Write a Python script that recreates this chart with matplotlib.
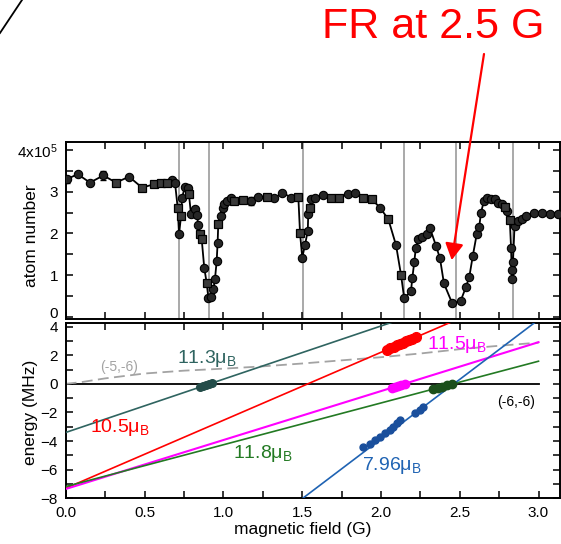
import numpy as np
import matplotlib
matplotlib.use("Agg")
import matplotlib.pyplot as plt
from matplotlib.lines import Line2D
from matplotlib.ticker import MultipleLocator

plt.rcParams['font.family'] = ['Liberation Sans', 'DejaVu Sans']
plt.rcParams['mathtext.fontset'] = 'custom'
plt.rcParams['mathtext.rm'] = 'Liberation Sans'
plt.rcParams['mathtext.it'] = 'Liberation Sans:italic'
plt.rcParams['mathtext.bf'] = 'Liberation Sans:bold'

# ---- atom-loss spectrum (atom number in units of 1e5) ----
field = [0.006, 0.076, 0.154, 0.239, 0.319, 0.402, 0.484, 0.562, 0.605, 0.641,
         0.673, 0.694, 0.711, 0.719, 0.732, 0.738, 0.757, 0.774, 0.782, 0.795,
         0.820, 0.833, 0.841, 0.852, 0.863, 0.879, 0.895, 0.905, 0.922, 0.937,
         0.947, 0.958, 0.964, 0.968, 0.983, 0.996, 1.006, 1.022, 1.049, 1.070,
         1.123, 1.176, 1.222, 1.275, 1.324, 1.374, 1.430, 1.476, 1.487, 1.501,
         1.518, 1.536, 1.539, 1.550, 1.556, 1.582, 1.635, 1.683, 1.734, 1.789,
         1.836, 1.888, 1.942, 1.994, 2.047, 2.096, 2.128, 2.148, 2.191, 2.199,
         2.212, 2.221, 2.237, 2.259, 2.291, 2.312, 2.350, 2.375, 2.400, 2.453,
         2.506, 2.540, 2.561, 2.583, 2.608, 2.624, 2.635, 2.654, 2.671, 2.697,
         2.724, 2.745, 2.767, 2.787, 2.802, 2.818, 2.826, 2.830, 2.834, 2.838,
         2.848, 2.872, 2.893, 2.921, 2.972, 3.020, 3.073, 3.126]
atoms = [3.30, 3.42, 3.22, 3.39, 3.22, 3.36, 3.10, 3.18, 3.20, 3.22,
         3.28, 3.20, 2.60, 1.98, 2.42, 2.86, 3.12, 3.10, 2.94, 2.46,
         2.58, 2.44, 2.20, 1.98, 1.86, 1.18, 0.80, 0.46, 0.48, 0.66,
         0.90, 1.34, 1.78, 2.22, 2.42, 2.62, 2.70, 2.78, 2.86, 2.78,
         2.80, 2.78, 2.88, 2.88, 2.84, 2.98, 2.86, 2.88, 2.00, 1.42,
         1.72, 2.06, 2.46, 2.60, 2.82, 2.86, 2.92, 2.86, 2.86, 2.94,
         2.96, 2.84, 2.82, 2.62, 2.34, 1.72, 1.00, 0.44, 0.62, 0.92,
         1.32, 1.64, 1.86, 1.92, 1.98, 2.12, 1.70, 1.40, 0.80, 0.32,
         0.38, 0.72, 0.96, 1.46, 1.98, 2.16, 2.50, 2.78, 2.84, 2.82,
         2.82, 2.72, 2.70, 2.64, 2.54, 2.32, 1.64, 1.12, 0.90, 1.32,
         2.18, 2.30, 2.34, 2.42, 2.50, 2.50, 2.46, 2.46]
atoms_err = {0.006: 0.08, 0.239: 0.10, 0.562: 0.06, 1.176: 0.10,
             1.275: 0.07, 1.430: 0.07, 2.671: 0.05}
square_fields = [0.319, 0.484, 0.562, 0.605, 0.641, 0.711, 0.732, 0.782, 0.852,
                 0.863, 0.895, 0.968, 1.070, 1.123, 1.275, 1.476, 1.487, 1.550,
                 1.683, 1.734, 1.888, 1.942, 2.047, 2.128, 2.787, 2.818]

resonances = [0.721, 0.911, 1.508, 2.149, 2.475, 2.836]
atom_ticks = [0, 1, 2, 3, 4]
atom_ticklabels = ['0', '1', '2', '3', '4x10$^{5}$']

# ---- bound-state energies relative to the (-6,-6) threshold ----
thr_B = [0.0, 3.0]
thr_E = [0.0, 0.0]
curve_B = [0.0, 0.1, 0.25, 0.5, 0.75, 1.0, 1.25, 1.5, 1.75, 2.0, 2.25, 2.5, 2.75, 3.0]
curve_E = [0.0, 0.12, 0.38, 0.72, 0.92, 1.06, 1.22, 1.42, 1.64, 1.86, 2.12, 2.42, 2.66, 2.88]
teal_B, teal_E = [0.0, 3.0], [-3.40, 7.76]
red_B, red_E = [0.0, 3.0], [-7.30, 6.95]
mag_B, mag_E = [0.0, 3.0], [-7.35, 2.91]
green_B, green_E = [0.0, 3.0], [-7.18, 1.58]
blue_B, blue_E = [1.504, 3.0], [-8.0, 4.48]

teal_pts_B = [0.85, 0.87, 0.89, 0.91, 0.93]
teal_pts_E = [-0.24, -0.17, -0.09, -0.02, 0.06]
red_pts_B = [2.04, 2.06, 2.08, 2.10, 2.12, 2.14, 2.16, 2.18, 2.20, 2.22]
red_pts_E = [2.39, 2.49, 2.58, 2.68, 2.77, 2.87, 2.96, 3.06, 3.15, 3.25]
mag_pts_B = [2.07, 2.09, 2.11, 2.13, 2.15]
mag_pts_E = [-0.27, -0.20, -0.13, -0.07, 0.00]
green_pts_B = [2.33, 2.36, 2.39, 2.42, 2.45]
green_pts_E = [-0.38, -0.29, -0.20, -0.11, -0.03]
blue_pts_B = [1.888, 1.931, 1.963, 1.994, 2.026, 2.058, 2.079, 2.100, 2.121,
              2.216, 2.248, 2.270]
blue_pts_E = [-4.39, -4.20, -3.92, -3.69, -3.45, -3.22, -2.99, -2.75, -2.52,
              -2.01, -1.82, -1.63]

C_TEAL = '#2f6460'
C_RED = '#ff0000'
C_MAG = '#ff00ff'
C_GREEN = '#237a23'
C_BLUE = '#1f63b3'
C_GRAY = '#a3a3a3'

W, H = 561, 544
fig = plt.figure(figsize=(W / 100, H / 100), dpi=100)

left = 65.7 / W
right = 560.0 / W
axw = 560.0 - 65.7
ax1 = fig.add_axes([left, 1 - 318.5 / H, right - left, (318.5 - 141.7) / H])
ax2 = fig.add_axes([left, 1 - 498.3 / H, right - left, (498.3 - 323.3) / H])

xmax = axw / 157.6

# ---- top panel ----
for xr in resonances:
    ax1.axvline(xr, color=C_GRAY, lw=1.3, zorder=1)
ax1.plot(field, atoms, '-', color='k', lw=1.3, zorder=2)
ex = list(atoms_err.keys())
ey = [atoms[field.index(v)] for v in ex]
ax1.errorbar(ex, ey, yerr=list(atoms_err.values()), fmt='none', ecolor='k',
             elinewidth=1.0, capsize=2.5, capthick=1.0, zorder=3)
sq = np.isin(field, square_fields)
f = np.array(field)
a = np.array(atoms)
ax1.plot(f[~sq], a[~sq], 'o', ms=6, mfc='#262626', mec='k', mew=0.8, zorder=4)
ax1.plot(f[sq], a[sq], 's', ms=5.5, mfc='#3a3a3a', mec='k', mew=0.9, zorder=4)

ax1.set_xlim(0, xmax)
ax1.set_ylim(-0.04, 4.2)
ax1.set_yticks(atom_ticks)
# the lowest label sits a little above its tick so it clears the panel below
ax1.set_yticklabels([''] + atom_ticklabels[1:])
ax1.annotate(atom_ticklabels[0], xy=(0, atom_ticks[0]),
             xycoords=('axes fraction', 'data'), xytext=(-5.5, 2.2),
             textcoords='offset points', ha='right', va='center', fontsize=11)
ax1.yaxis.set_minor_locator(MultipleLocator(0.5))
ax1.xaxis.set_major_locator(MultipleLocator(0.5))
ax1.xaxis.set_minor_locator(MultipleLocator(0.25))
ax1.tick_params(axis='x', which='both', labelbottom=False)
ax1.set_ylabel('atom number', fontsize=12.5)
ax1.yaxis.set_label_coords((39.5 - 65.7) / axw, 0.47)

# ---- bottom panel ----
ax2.plot(thr_B, thr_E, color='k', lw=1.3, zorder=2)
ax2.plot(curve_B, curve_E, color=C_GRAY, lw=1.3, dashes=(6, 3), zorder=2)
ax2.plot(teal_B, teal_E, color=C_TEAL, lw=1.2, zorder=3)
ax2.plot(red_B, red_E, color=C_RED, lw=1.2, zorder=3)
ax2.plot(mag_B, mag_E, color=C_MAG, lw=1.5, zorder=3)
ax2.plot(green_B, green_E, color=C_GREEN, lw=1.2, zorder=3)
ax2.plot(blue_B, blue_E, color=C_BLUE, lw=1.2, zorder=3)

for bx, be, col, ms in [(teal_pts_B, teal_pts_E, '#244d4a', 5.5),
                        (red_pts_B, red_pts_E, C_RED, 7),
                        (mag_pts_B, mag_pts_E, C_MAG, 6),
                        (green_pts_B, green_pts_E, '#1b4f1b', 6),
                        (blue_pts_B, blue_pts_E, '#1a4f9c', 5)]:
    ax2.errorbar(bx, be, xerr=0.018, yerr=0.14, fmt='o', ms=ms, color=col,
                 mec=col, elinewidth=1.8, capsize=0, zorder=4)

txt = dict(fontsize=14, va='center', ha='left')
ax2.text(0.705, 1.74, '11.3μ$_\\mathregular{B}$', color=C_TEAL, **txt)
ax2.text(0.154, -3.05, '10.5μ$_\\mathregular{B}$', color=C_RED, **txt)
ax2.text(1.063, -4.90, '11.8μ$_\\mathregular{B}$', color=C_GREEN, **txt)
ax2.text(2.290, 2.76, '11.5μ$_\\mathregular{B}$', color=C_MAG, **txt)
ax2.text(1.878, -5.72, '7.96μ$_\\mathregular{B}$', color=C_BLUE, **txt)
ax2.text(0.218, 1.15, '(-5,-6)', color=C_GRAY, fontsize=10, va='center', ha='left')
ax2.text(2.978, -1.24, '(-6,-6)', color='k', fontsize=10, va='center', ha='right')

ax2.set_xlim(0, xmax)
ax2.set_ylim(-8, 4.23)
ax2.set_xticks([0, 0.5, 1.0, 1.5, 2.0, 2.5, 3.0])
ax2.set_xticklabels(['0.0', '0.5', '1.0', '1.5', '2.0', '2.5', '3.0'])
ax2.xaxis.set_minor_locator(MultipleLocator(0.25))
ax2.yaxis.set_major_locator(MultipleLocator(2))
ax2.yaxis.set_minor_locator(MultipleLocator(1))
ax2.set_xlabel('magnetic field (G)', fontsize=12.5)
ax2.set_ylabel('energy (MHz)', fontsize=12.5)
ax2.xaxis.set_label_coords((303 - 65.7) / axw, (498.3 - 522.0) / 175.0)
ax2.yaxis.set_label_coords((38.5 - 65.7) / axw, 0.49)

for ax in (ax1, ax2):
    ax.tick_params(which='both', direction='in', top=True, right=True,
                   length=5, width=1.1, labelsize=11, pad=5.5)
    for s in ax.spines.values():
        s.set_linewidth(1.4)

# ---- annotation ----
fig.text(433 / W, 1 - 27 / H, 'FR at 2.5 G', color=C_RED, fontsize=31,
         ha='center', va='center')
ax1.annotate('', xy=((451.7 - 65.7) / 157.6, (316.7 - 260) / 41.67),
             xytext=(484 / W, 1 - 54 / H), textcoords='figure fraction',
             xycoords='data', annotation_clip=False,
             arrowprops=dict(arrowstyle='-|>,head_length=1.0,head_width=0.55',
                             color=C_RED, lw=1.6, shrinkA=0, shrinkB=0,
                             mutation_scale=10))
fig.add_artist(Line2D([0, 22 / W], [1 - 33 / H, 1.0], color='k', lw=1.3,
                      transform=fig.transFigure))

fig.savefig('out.png', dpi=100)
